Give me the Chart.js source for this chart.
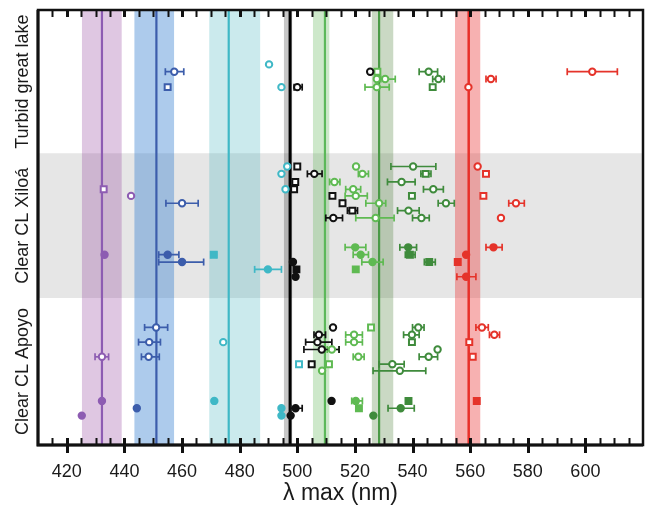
<!DOCTYPE html>
<html>
<head>
<meta charset="utf-8">
<script src="https://cdn.jsdelivr.net/npm/chart.js@4/dist/chart.umd.min.js"></script>
<style>
html,body{margin:0;padding:0;background:#fff;}
canvas{display:block;}
</style>
</head>
<body>
<canvas id="c" width="651" height="511"></canvas>
<script>
// ---------- data ----------
const xMin = 410, xMax = 620;
const xTicks = [420, 440, 460, 480, 500, 520, 540, 560, 580, 600];
const minorStep = 5;
const categories = ['Clear CL Apoyo', 'Clear CL Xiloá', 'Turbid great lake'];
const catBounds = [0, 20, 39.7, 59.2];   // row units, bottom to top
const shadedCategory = 1;

const series = ['violet', 'blue', 'cyan', 'black', 'green', 'olive', 'red'];
const peakNm = [432.2, 451.1, 476.2, 497.5, 509.6, 528.4, 559.5];
const bandLo = [425.2, 443.4, 469.4, 495.3, 505.4, 525.8, 554.7];
const bandHi = [439.1, 457.3, 487.2, 498.3, 511.2, 533.4, 563.6];

// [lambda max, row, error low, error high, marker kind]  o=open circle f=filled circle s=open square S=filled square
const violetPts = [
  [432.8, 34.8, null, null, 's'], [442.3, 33.9, null, null, 'o'], [433.1, 25.9, null, null, 'f'],
  [432.2, 12.0, 429.8, 434.5, 'o'], [432.2, 6.0, null, null, 'f'], [425.2, 4.0, null, null, 'f']
];
const bluePts = [
  [457.3, 50.8, 454.2, 460.6, 'o'], [455.0, 48.7, null, null, 's'],
  [460.0, 32.9, 454.4, 465.6, 'o'], [455.0, 25.9, 451.9, 458.9, 'f'], [460.0, 24.9, 451.9, 467.5, 'f'],
  [451.0, 16.0, 447.0, 455.0, 'o'], [448.6, 14.0, 444.9, 452.5, 'o'], [448.4, 12.0, 445.9, 452.1, 'o'],
  [444.3, 5.0, null, null, 'f']
];
const cyanPts = [
  [490.2, 51.8, null, null, 'o'], [494.5, 48.7, null, null, 'o'],
  [496.5, 37.9, null, null, 'o'], [494.5, 36.9, null, null, 'o'], [495.9, 34.8, null, null, 'o'],
  [471.0, 25.9, 470.0, 472.0, 'S'], [489.8, 23.9, 485.2, 494.5, 'f'],
  [474.3, 14.0, null, null, 'o'], [500.6, 11.0, null, null, 's'], [471.2, 6.0, null, null, 'f'],
  [494.5, 5.0, null, null, 'f'], [494.5, 4.0, null, null, 'f']
];
const blackPts = [
  [525.3, 50.8, null, null, 'o'], [500.0, 48.7, 498.9, 501.7, 'o'],
  [500.0, 37.9, null, null, 's'], [505.9, 36.9, 503.5, 508.6, 'o'], [499.3, 35.8, null, null, 's'],
  [498.9, 34.8, null, null, 's'], [512.2, 33.9, null, null, 's'], [515.7, 32.9, null, null, 's'],
  [519.1, 31.9, 517.4, 520.9, 's'], [512.5, 30.9, 509.9, 515.7, 'o'],
  [498.5, 24.9, null, null, 'f'], [499.7, 23.9, null, null, 'S'], [499.4, 22.9, null, null, 'f'],
  [512.4, 16.0, null, null, 'o'], [507.5, 15.0, 505.8, 509.8, 'o'], [507.0, 14.0, 502.9, 512.0, 'o'],
  [508.5, 13.0, 502.3, 514.5, 'o'], [505.0, 11.0, null, null, 's'], [511.9, 6.0, null, null, 'f'],
  [499.4, 5.0, 497.7, 501.7, 'f'], [497.7, 4.0, null, null, 'f']
];
const greenPts = [
  [527.8, 50.8, null, null, 's'], [527.6, 49.8, null, null, 'o'], [530.5, 49.8, 529.0, 534.0, 'o'],
  [527.6, 48.7, 523.5, 531.9, 'o'],
  [520.4, 37.9, null, null, 'o'], [522.6, 36.9, 521.2, 524.7, 'o'], [512.9, 35.8, 511.2, 514.8, 'o'],
  [519.4, 34.8, 516.8, 522.0, 'o'], [520.3, 33.9, 516.6, 524.3, 'o'], [528.4, 32.9, 523.8, 530.7, 'o'],
  [527.2, 30.9, 520.3, 533.6, 'o'],
  [520.1, 26.9, 516.6, 523.8, 'f'], [522.0, 25.9, 519.4, 524.7, 'f'], [526.1, 24.9, 522.4, 529.8, 'f'],
  [520.3, 23.9, null, null, 'S'],
  [525.6, 16.0, null, null, 's'], [519.7, 15.0, 516.8, 522.6, 'o'], [519.7, 14.0, 516.8, 522.6, 'o'],
  [512.0, 13.0, 510.4, 514.5, 'o'], [521.2, 12.0, 519.4, 523.2, 'o'], [511.0, 11.0, null, null, 's'],
  [508.6, 10.1, null, null, 'o'], [520.3, 6.0, 518.9, 522.6, 'f'], [521.4, 5.0, null, null, 'S']
];
const olivePts = [
  [545.6, 50.8, 542.3, 548.7, 'o'], [549.0, 49.8, 547.0, 551.0, 'o'], [547.0, 48.7, null, null, 's'],
  [540.2, 37.9, 532.5, 548.1, 'o'], [544.6, 36.9, 542.9, 546.4, 's'], [536.2, 35.8, 531.3, 540.9, 'o'],
  [547.2, 34.8, 543.8, 550.7, 'o'], [539.8, 33.9, null, null, 's'], [551.6, 32.9, 548.9, 554.5, 'o'],
  [538.6, 31.9, 534.8, 542.3, 'o'], [543.1, 30.9, 540.0, 545.8, 'o'],
  [538.5, 26.9, 535.6, 541.4, 'f'], [539.1, 25.9, 537.5, 540.9, 'S'], [545.8, 24.9, 544.1, 547.9, 'S'],
  [542.0, 16.0, 540.0, 544.0, 'o'], [539.8, 15.0, 536.9, 542.3, 'o'], [539.8, 14.0, null, null, 's'],
  [548.7, 13.0, null, null, 'o'], [545.6, 12.0, 542.3, 548.7, 'o'], [533.0, 11.0, 528.4, 537.1, 'o'],
  [535.6, 10.1, 526.3, 544.6, 'o'], [538.6, 6.0, null, null, 'S'], [535.9, 5.0, 531.5, 540.6, 'f'],
  [526.4, 4.0, null, null, 'f']
];
const redPts = [
  [602.4, 50.8, 593.7, 611.1, 'o'], [567.2, 49.8, 565.5, 569.0, 'o'], [559.4, 48.7, null, null, 'o'],
  [562.6, 37.9, null, null, 'o'], [565.5, 36.9, null, null, 's'], [564.6, 33.9, null, null, 's'],
  [575.9, 32.9, 573.4, 578.8, 'o'], [570.7, 30.9, null, null, 'o'],
  [568.1, 26.9, 565.5, 571.1, 'f'], [558.6, 25.9, null, null, 'f'], [555.7, 24.9, null, null, 'S'],
  [558.6, 22.9, 555.4, 562.0, 'f'],
  [564.1, 16.0, 562.0, 566.3, 'o'], [568.4, 15.0, 566.7, 570.2, 'o'], [559.7, 14.0, null, null, 's'],
  [560.9, 12.0, null, null, 's'], [562.3, 6.0, null, null, 'S']
];
const seriesPts = [violetPts, bluePts, cyanPts, blackPts, greenPts, olivePts, redPts];

// ---------- styles ----------
const markColors = ['#8d5cb2', '#3c5dab', '#3fb8c6', '#111111', '#5fba52', '#3f8b3c', '#e5332a'];
const lineColors = ['#8d5cb2', '#3c5dab', '#3fb8c6', '#000000', '#5cb85a', '#4a9a46', '#e8302a'];
const lineWidths = [2.2, 2.2, 2.2, 3, 2.2, 2.2, 2.5];
const bandColors = ['rgba(150,70,160,0.30)', 'rgba(60,130,210,0.42)', 'rgba(70,180,190,0.28)',
                    'rgba(0,0,0,0.22)', 'rgba(90,180,80,0.30)', 'rgba(80,130,60,0.30)', 'rgba(235,60,60,0.40)'];
const FONT = '"Liberation Sans", Arial, Helvetica, sans-serif';
const yMax = catBounds[catBounds.length - 1];

// ---------- datasets ----------
const datasets = [];
datasets.push({
  type: 'line',
  data: [{x: xMin, y: catBounds[shadedCategory]}, {x: xMax, y: catBounds[shadedCategory]}],
  fill: {value: catBounds[shadedCategory + 1]},
  backgroundColor: '#e6e6e6', borderWidth: 0, pointRadius: 0, order: 20
});
series.forEach((name, i) => {
  const c = markColors[i];
  datasets.push({
    type: 'line', label: name + ' range',
    data: [{x: bandLo[i], y: 0}, {x: bandLo[i], y: yMax}, {x: bandHi[i], y: yMax}, {x: bandHi[i], y: 0}],
    fill: 'origin', backgroundColor: bandColors[i], borderWidth: 0, pointRadius: 0, order: 15
  });
  datasets.push({
    type: 'line', label: name + ' peak',
    data: [{x: peakNm[i], y: 0}, {x: peakNm[i], y: yMax}],
    borderColor: lineColors[i], borderWidth: lineWidths[i], pointRadius: 0, fill: false, order: 10
  });
  const pts = seriesPts[i];
  const eb = [];
  pts.forEach(p => {
    if (p[2] !== null) {
      eb.push({x: p[2], y: p[1]}, {x: p[3], y: p[1]}, {x: p[3], y: null});
    }
  });
  datasets.push({
    type: 'line', label: name + ' error',
    data: eb, borderColor: c, borderWidth: 1.7, fill: false, spanGaps: false,
    pointStyle: 'line', pointRotation: 90, pointRadius: 3.5, pointBorderWidth: 1.7,
    pointBorderColor: c, pointBackgroundColor: c, order: 5
  });
  datasets.push({
    type: 'scatter', label: name,
    data: pts.map(p => ({x: p[0], y: p[1]})),
    pointStyle: pts.map(p => (p[4] === 's' || p[4] === 'S') ? 'rect' : 'circle'),
    pointRadius: pts.map(p => (p[4] === 's' || p[4] === 'S') ? 4.2 : 3.2),
    pointBackgroundColor: pts.map(p => (p[4] === 'f' || p[4] === 'S') ? c : '#ffffff'),
    pointBorderColor: c, pointBorderWidth: 2, order: 1
  });
});

// ---------- decoration plugin (ticks, frame, category labels) ----------
const deco = {
  id: 'deco',
  afterDatasetsDraw(chart) {
    const {ctx, chartArea: a, scales: {x, y}} = chart;
    ctx.save();
    ctx.strokeStyle = '#111';
    for (let v = Math.ceil(xMin / minorStep) * minorStep; v <= xMax; v += minorStep) {
      if (v <= xMin || v >= xMax) continue;
      const px = Math.round(x.getPixelForValue(v)) + 0.5;
      const major = xTicks.includes(v);
      ctx.lineWidth = major ? 3 : 2;
      ctx.beginPath(); ctx.moveTo(px, a.top); ctx.lineTo(px, a.top + 7); ctx.stroke();
      ctx.beginPath(); ctx.moveTo(px, a.bottom - 7); ctx.lineTo(px, a.bottom + (major ? 8 : 0)); ctx.stroke();
    }
    ctx.lineWidth = 2.5;
    ctx.strokeRect(a.left, a.top, a.right - a.left, a.bottom - a.top);
    ctx.lineWidth = 3;
    ctx.beginPath(); ctx.moveTo(a.left, a.top); ctx.lineTo(a.left, a.bottom); ctx.lineTo(a.right, a.bottom); ctx.stroke();
    // category labels
    ctx.fillStyle = '#1a1a1a';
    ctx.font = '18px ' + FONT;
    ctx.textAlign = 'center';
    ctx.textBaseline = 'alphabetic';
    categories.forEach((cat, i) => {
      const mid = (catBounds[i] + catBounds[i + 1]) / 2;
      const py = y.getPixelForValue(mid);
      ctx.save();
      ctx.translate(28, py);
      ctx.rotate(-Math.PI / 2);
      ctx.fillText(cat, 0, 0);
      ctx.restore();
    });
    ctx.restore();
  }
};

new Chart(document.getElementById('c'), {
  type: 'scatter',
  data: {datasets},
  options: {
    responsive: false,
    animation: false,
    events: [],
    layout: {padding: {top: 10, right: 8, left: 0, bottom: 0}},
    plugins: {legend: {display: false}, tooltip: {enabled: false}},
    scales: {
      x: {
        type: 'linear', min: xMin, max: xMax,
        afterBuildTicks: s => { s.ticks = xTicks.map(v => ({value: v})); },
        afterFit: s => { s.height = 66; },
        grid: {display: false},
        border: {display: false},
        ticks: {color: '#1a1a1a', font: {family: FONT, size: 18}, padding: 8, maxRotation: 0},
        title: {display: true, text: 'λ max (nm)', color: '#1a1a1a', font: {family: FONT, size: 23}, padding: {top: 0, bottom: 4}}
      },
      y: {
        type: 'linear', min: 0, max: yMax,
        afterFit: s => { s.width = 38; },
        grid: {display: false},
        border: {display: false},
        ticks: {display: false}
      }
    }
  },
  plugins: [deco]
});
</script>
</body>
</html>
